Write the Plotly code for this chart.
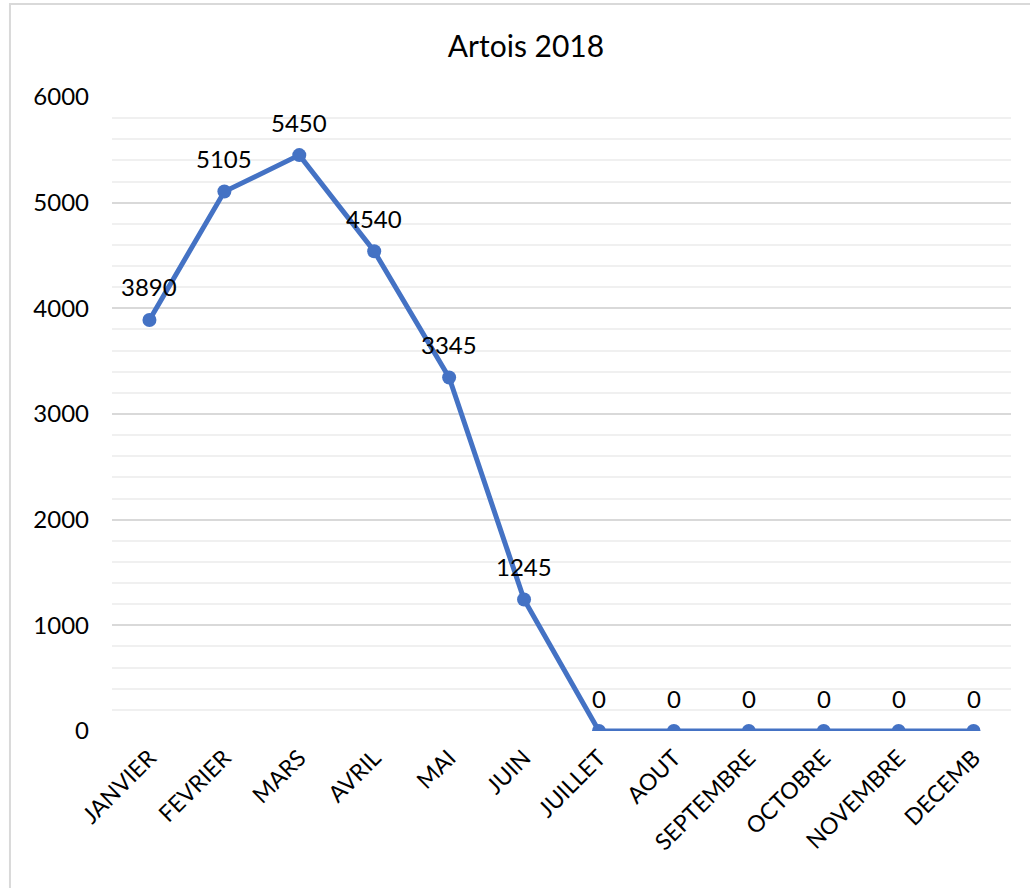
import plotly.graph_objects as go

months = ['JANVIER', 'FEVRIER', 'MARS', 'AVRIL', 'MAI', 'JUIN', 'JUILLET',
          'AOUT', 'SEPTEMBRE', 'OCTOBRE', 'NOVEMBRE', 'DECEMB']
values = [3890, 5105, 5450, 4540, 3345, 1245, 0, 0, 0, 0, 0, 0]

FONT = 'Lato, "DejaVu Sans", sans-serif'
BLUE = '#4472C4'

fig = go.Figure()

fig.add_trace(go.Scatter(
    x=months, y=values, mode='lines+markers',
    line=dict(color=BLUE, width=5),
    marker=dict(color=BLUE, size=14),
    hoverinfo='x+y'))

# data labels above the points
for m, v in zip(months, values):
    fig.add_annotation(x=m, y=v, text=str(v), showarrow=False,
                       yshift=33, font=dict(size=24, color='#000000', family=FONT))

# chart border (only top/left visible in frame)
fig.add_shape(type='rect', xref='paper', yref='paper',
              x0=-0.1135, x1=1.05, y0=-0.3, y1=1.1467,
              line=dict(color='#d9d9d9', width=2), layer='below')

fig.update_layout(
    width=1030, height=888,
    margin=dict(l=112, r=19, t=97, b=157),
    paper_bgcolor='white', plot_bgcolor='white',
    showlegend=False,
    title=dict(text='Artois 2018', x=526 / 1030, xref='container', xanchor='center',
               y=1 - 46 / 888, yref='container', yanchor='middle',
               font=dict(size=30, color='#000000', family=FONT)),
    font=dict(family=FONT, color='#000000'),
    xaxis=dict(showgrid=False, showline=False, zeroline=False, ticks='',
               tickangle=-45, tickfont=dict(size=23, family=FONT),
               ticklabelstandoff=8, range=[-0.5, 11.5]),
    yaxis=dict(range=[0, 6000], dtick=1000, showline=False, zeroline=False,
               gridcolor='#d9d9d9', gridwidth=2, ticks='',
               ticklabelstandoff=22,
               tickfont=dict(size=24, family=FONT),
               minor=dict(dtick=200, showgrid=True, gridcolor='#f0f0f0', gridwidth=2)),
)

# drop the page's default body margin so the figure sits at 0,0
fig.write_html('out.html', config={'displayModeBar': False},
               post_script="document.body.style.margin='0';")
